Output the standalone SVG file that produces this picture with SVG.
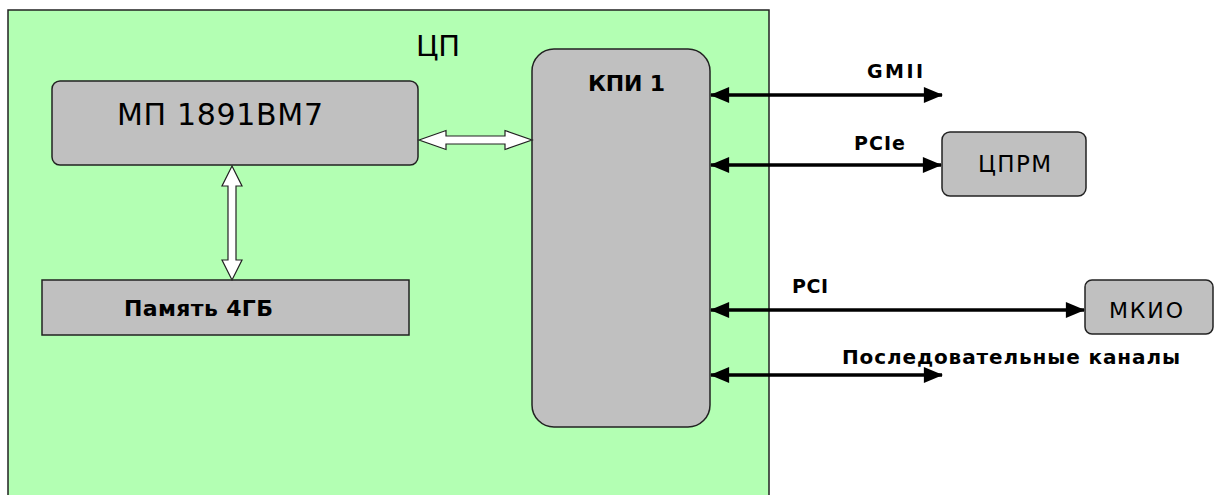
<svg xmlns="http://www.w3.org/2000/svg" width="1215" height="495" viewBox="0 0 1215 495">
<style>
.box{fill:#c0c0c0;stroke:#222;stroke-width:1.5}
.t{font-family:"DejaVu Sans","Liberation Sans",sans-serif;fill:#000}
.b{font-weight:bold}
.bus{stroke:#000;stroke-width:3.5;fill:none;marker-start:url(#ah);marker-end:url(#ah)}
.wa{fill:#fff;stroke:#222;stroke-width:1.2}
</style>
<defs>
<marker id="ah" markerUnits="userSpaceOnUse" markerWidth="20" markerHeight="16" viewBox="0 0 18 15" refX="17" refY="7.5" orient="auto-start-reverse">
<path d="M0,0 L18,7.5 L0,15 z" fill="#000"/>
</marker>
</defs>
<rect width="1215" height="495" fill="#fff"/>
<g id="cp">
<rect x="8" y="10" width="761" height="490" fill="#b3ffb3" stroke="#222" stroke-width="1.5"/>
<text class="t" x="416" y="56" font-size="29" textLength="44">ЦП</text>
</g>
<g id="mp">
<rect class="box" x="52" y="81" width="366" height="84" rx="8"/>
<text class="t" x="117" y="125" font-size="30" textLength="206">МП 1891ВМ7</text>
</g>
<g id="mem">
<rect class="box" x="42" y="280" width="367" height="55"/>
<text class="t b" x="124" y="316" font-size="22" textLength="149">Память 4ГБ</text>
</g>
<g id="kpi">
<rect class="box" x="532" y="49" width="178" height="378" rx="22"/>
<text class="t b" x="588" y="91" font-size="22" textLength="77">КПИ 1</text>
</g>
<g id="cprm">
<rect class="box" x="942" y="132" width="144" height="64" rx="8"/>
<text class="t" x="978" y="172" font-size="23" textLength="73">ЦПРМ</text>
</g>
<g id="mkio">
<rect class="box" x="1085" y="280" width="128" height="54" rx="7"/>
<text class="t" x="1109" y="318" font-size="22" textLength="74">МКИО</text>
</g>
<g id="connectors">
<polygon class="wa" points="419,140 446,130.5 446,136 505,136 505,130.5 532,140 505,149.5 505,144 446,144 446,149.5"/>
<polygon class="wa" points="232,166 242,186 236,186 236,260 242,260 232,280 222,260 228,260 228,186 222,186"/>
<line class="bus" x1="711" y1="95" x2="942" y2="95" stroke-width="4"/>
<line class="bus" x1="711" y1="165" x2="941" y2="165"/>
<line class="bus" x1="711" y1="310" x2="1084" y2="310"/>
<line class="bus" x1="711" y1="375" x2="942" y2="375"/>
<text class="t b" x="867" y="78" font-size="19" textLength="56">GMII</text>
<text class="t b" x="854" y="150" font-size="19" textLength="51">PCIe</text>
<text class="t b" x="792" y="293" font-size="19" textLength="36">PCI</text>
<text class="t b" x="842" y="364" font-size="20" textLength="338">Последовательные каналы</text>
</g>
</svg>
